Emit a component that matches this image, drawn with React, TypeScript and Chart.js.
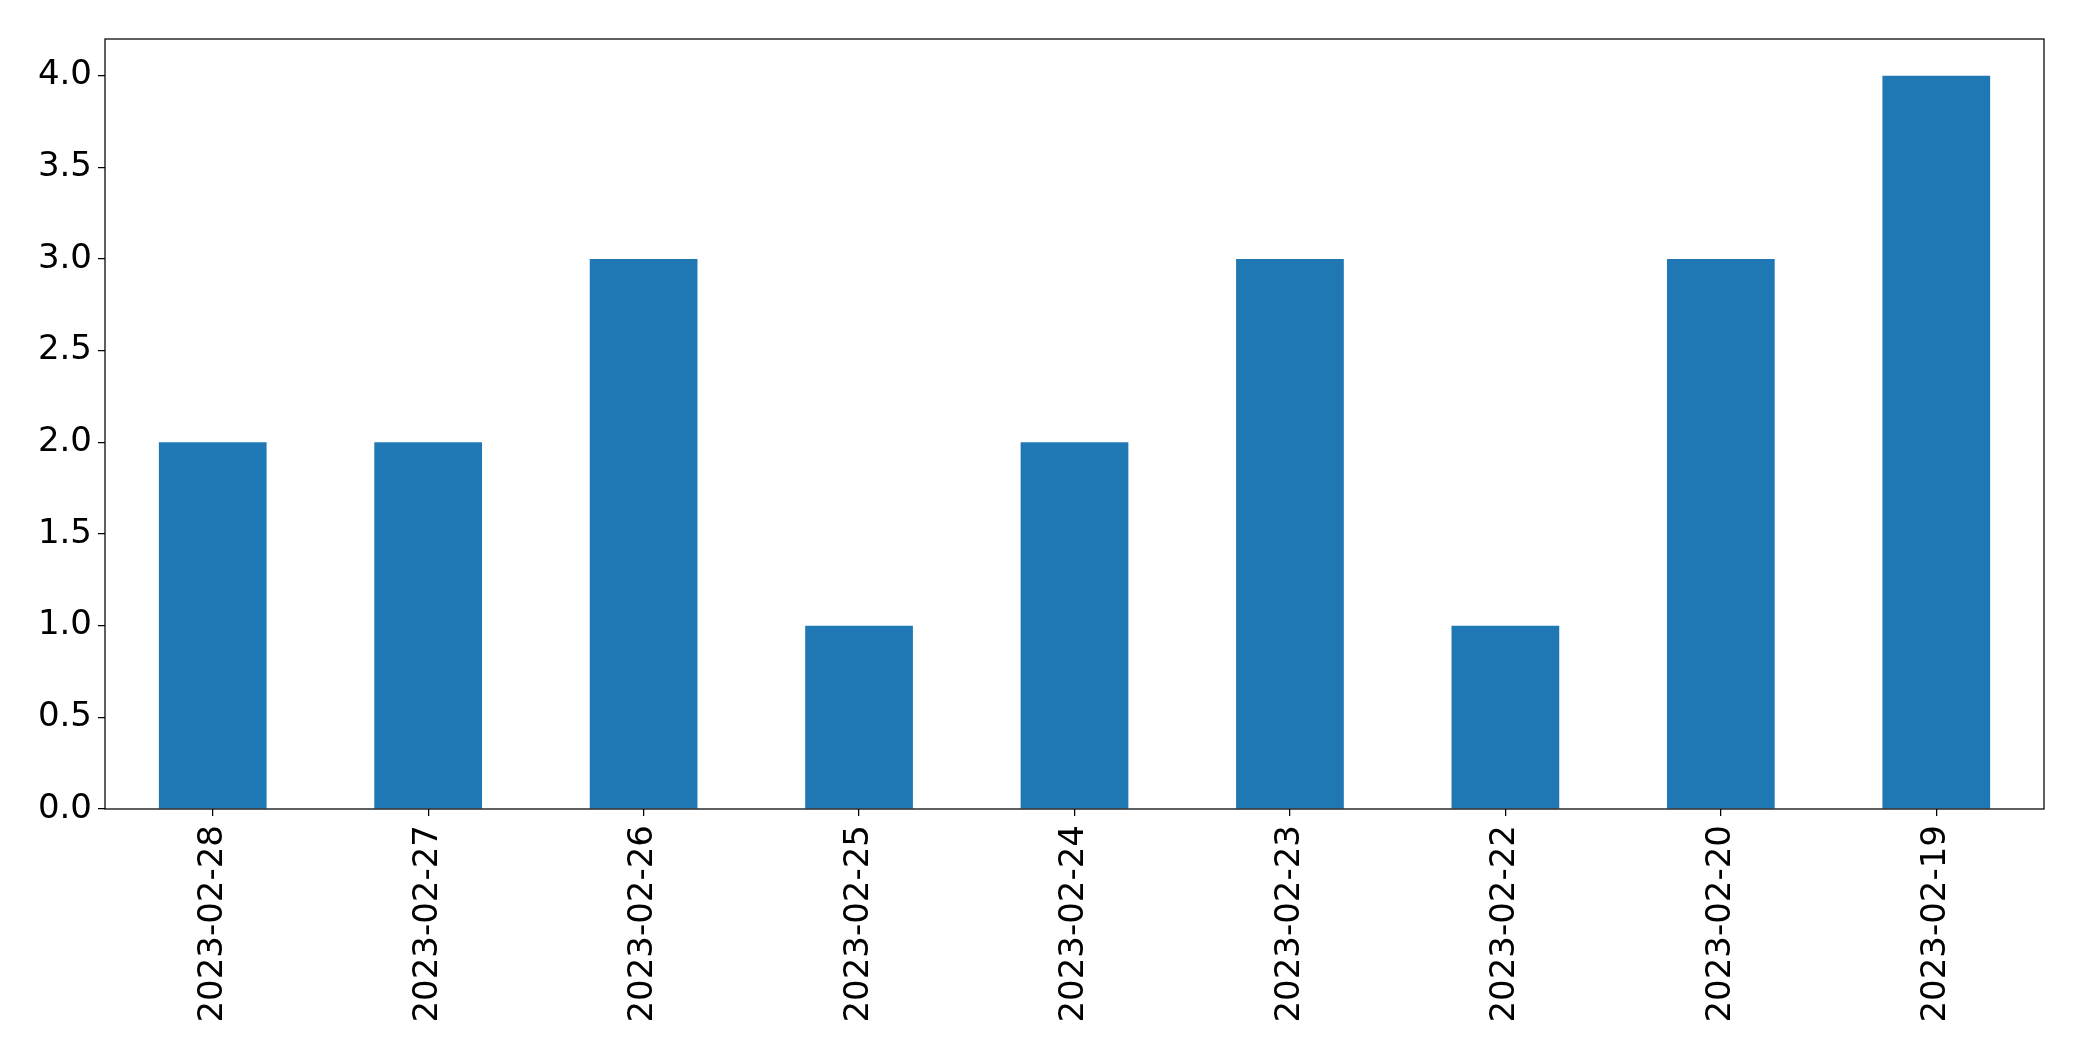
import React, { useEffect, useRef } from "react";
import { Chart, registerables } from "chart.js";

Chart.register(...registerables);

const categories = [
  "2023-02-28",
  "2023-02-27",
  "2023-02-26",
  "2023-02-25",
  "2023-02-24",
  "2023-02-23",
  "2023-02-22",
  "2023-02-20",
  "2023-02-19",
];
const values = [2, 2, 3, 1, 2, 3, 1, 3, 4];
const yMin = 0;
const yMax = 4.2;
const yStep = 0.5;

const frame = {
  id: "frame",
  afterDraw(chart: any) {
    const { ctx, chartArea } = chart;
    ctx.save();
    ctx.strokeStyle = "#000";
    ctx.lineWidth = 1.25;
    ctx.strokeRect(chartArea.left, chartArea.top, chartArea.right - chartArea.left, chartArea.bottom - chartArea.top);
    ctx.restore();
  },
};

export default function App() {
  const ref = useRef<HTMLCanvasElement | null>(null);
  useEffect(() => {
    document.body.style.margin = "0";
    const font = { family: "'DejaVu Sans', sans-serif", size: 34 };
    const chart = new Chart(ref.current as HTMLCanvasElement, {
      type: "bar",
      data: {
        labels: categories,
        datasets: [
          {
            data: values,
            backgroundColor: "#1f77b4",
            borderWidth: 0,
            categoryPercentage: 1,
            barPercentage: 0.5,
          },
        ],
      },
      plugins: [frame],
      options: {
        animation: false,
        responsive: false,
        devicePixelRatio: 1,
        layout: { padding: { top: 39, right: 38, left: 0, bottom: 0 } },
        plugins: { legend: { display: false }, tooltip: { enabled: false } },
        scales: {
          x: {
            border: { display: false },
            grid: { display: true, offset: false, drawOnChartArea: false, drawTicks: true, tickLength: 7, color: "#000", lineWidth: 1.25 },
            ticks: { color: "#000", font, minRotation: 90, maxRotation: 90, padding: 9, autoSkip: false },
            afterFit(scale: any) {
              scale.height = 252;
            },
          },
          y: {
            min: yMin,
            max: yMax,
            border: { display: false },
            grid: { display: true, drawOnChartArea: false, drawTicks: true, tickLength: 7, color: "#000", lineWidth: 1.25 },
            ticks: {
              color: "#000",
              font,
              stepSize: yStep,
              includeBounds: false,
              padding: 6,
              callback: (v: any) => Number(v).toFixed(1),
            },
            afterFit(scale: any) {
              scale.width = 105;
            },
          },
        },
      },
    });
    return () => chart.destroy();
  }, []);
  return (
    <div style={{ width: 2082, height: 1061, background: "#fff" }}>
      <canvas ref={ref} width={2082} height={1061} style={{ display: "block" }} />
    </div>
  );
}
